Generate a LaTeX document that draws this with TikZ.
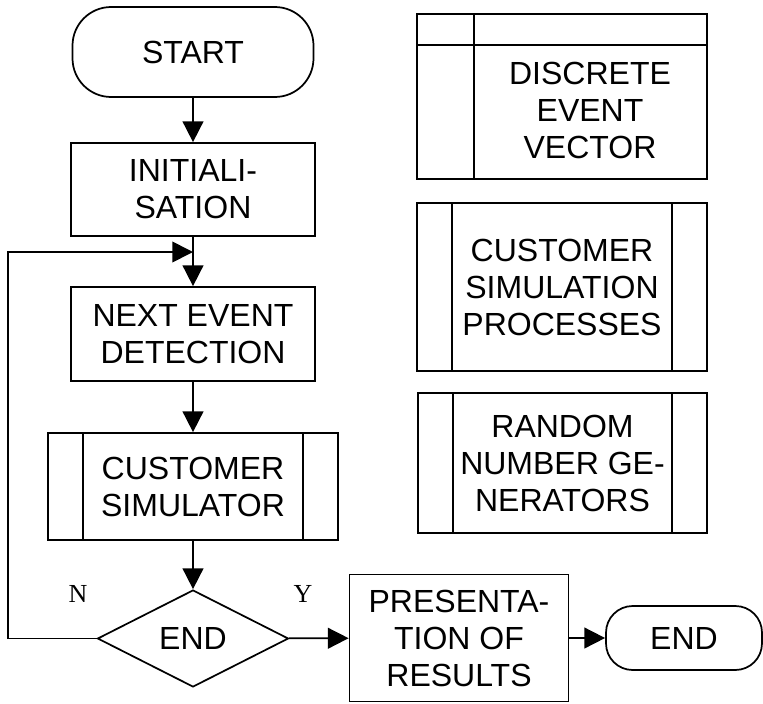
\documentclass[tikz,border=0pt]{standalone}
\usepackage{fontspec}
\setmainfont{Liberation Sans}
\newfontfamily\yesnofont{Liberation Serif}
\usetikzlibrary{arrows.meta,shapes.geometric}

\tikzset{every picture/.style={line width=1.3pt}}
\tikzset{
box/.style={draw, rectangle, inner sep=0pt, align=center, font=\fontsize{24}{27.75}\selectfont},
term/.style={box, rounded corners=#1},
subproc/.style={box, path picture={
  \draw ([xshift=26.25pt]path picture bounding box.north west) -- ([xshift=26.25pt]path picture bounding box.south west);
  \draw ([xshift=-26.25pt]path picture bounding box.north east) -- ([xshift=-26.25pt]path picture bounding box.south east);}},
store/.style={box, path picture={
  \draw ([yshift=-23.25pt]path picture bounding box.north west) -- ([yshift=-23.25pt]path picture bounding box.north east);
  \draw ([xshift=42.75pt]path picture bounding box.north west) -- ([xshift=42.75pt]path picture bounding box.south west);}},
decide/.style={box, diamond, aspect=2},
txt/.style={inner sep=0pt, align=center, font=\fontsize{24}{27.75}\selectfont},
yn/.style={inner sep=0pt, font=\yesnofont\fontsize{19.5}{22}\selectfont},
flow/.style={-{Triangle[length=15.5pt,width=15.5pt]}}
}

\begin{document}
\begin{tikzpicture}[x=0.75pt,y=0.75pt,yscale=-1,xscale=1]
\useasboundingbox (0,0) rectangle (763,703);

%Main column
\node [term=29pt, minimum width=180.75pt, minimum height=67.5pt] (start) at (193,52) {START};
\node [box, minimum width=183pt, minimum height=69.75pt] (init) at (193,189.5) {INITIALI-\\SATION};
\node [box, minimum width=183pt, minimum height=70.5pt] (next) at (193,334) {NEXT EVENT\\DETECTION};
\node [subproc, minimum width=217.5pt, minimum height=80.25pt] (cust) at (193,486.5) {CUSTOMER\\SIMULATOR};
\node [decide, minimum width=143.25pt, minimum height=72.75pt] (endq) at (193,638.5) {END};
\node [box, minimum width=164.25pt, minimum height=95.25pt] (pres) at (459,638) {PRESENTA-\\TION OF\\RESULTS};
\node [term=20pt, minimum width=117pt, minimum height=48pt] (stop) at (684,638) {END};

%Right column
\node [store, minimum width=217.5pt, minimum height=123.75pt] (dev) at (562,96.5) {};
\node [txt] (devtext) at (590,110) {DISCRETE\\EVENT\\VECTOR};
\node [subproc, minimum width=217.5pt, minimum height=126pt] (csp) at (562,287) {CUSTOMER\\SIMULATION\\PROCESSES};
\node [subproc, minimum width=216.75pt, minimum height=105pt] (rng) at (562.5,463) {RANDOM\\NUMBER GE-\\NERATORS};

%Connectors
\coordinate (loop) at (8,252);
\coordinate (join) at (193,252);
\draw [flow] (start) -- (init);
\draw [flow] (init) -- (next);
\draw [flow] (next) -- (cust);
\draw [flow] (cust) -- (endq);
\draw [flow] (endq.west) -| (loop) -- (join);
\draw [flow] (endq) -- (pres);
\draw [flow] (pres) -- (stop);

% Text Node
\node [yn] (no) at (78,594) {N};
% Text Node
\node [yn] (yes) at (303,594) {Y};

\end{tikzpicture}
\end{document}
